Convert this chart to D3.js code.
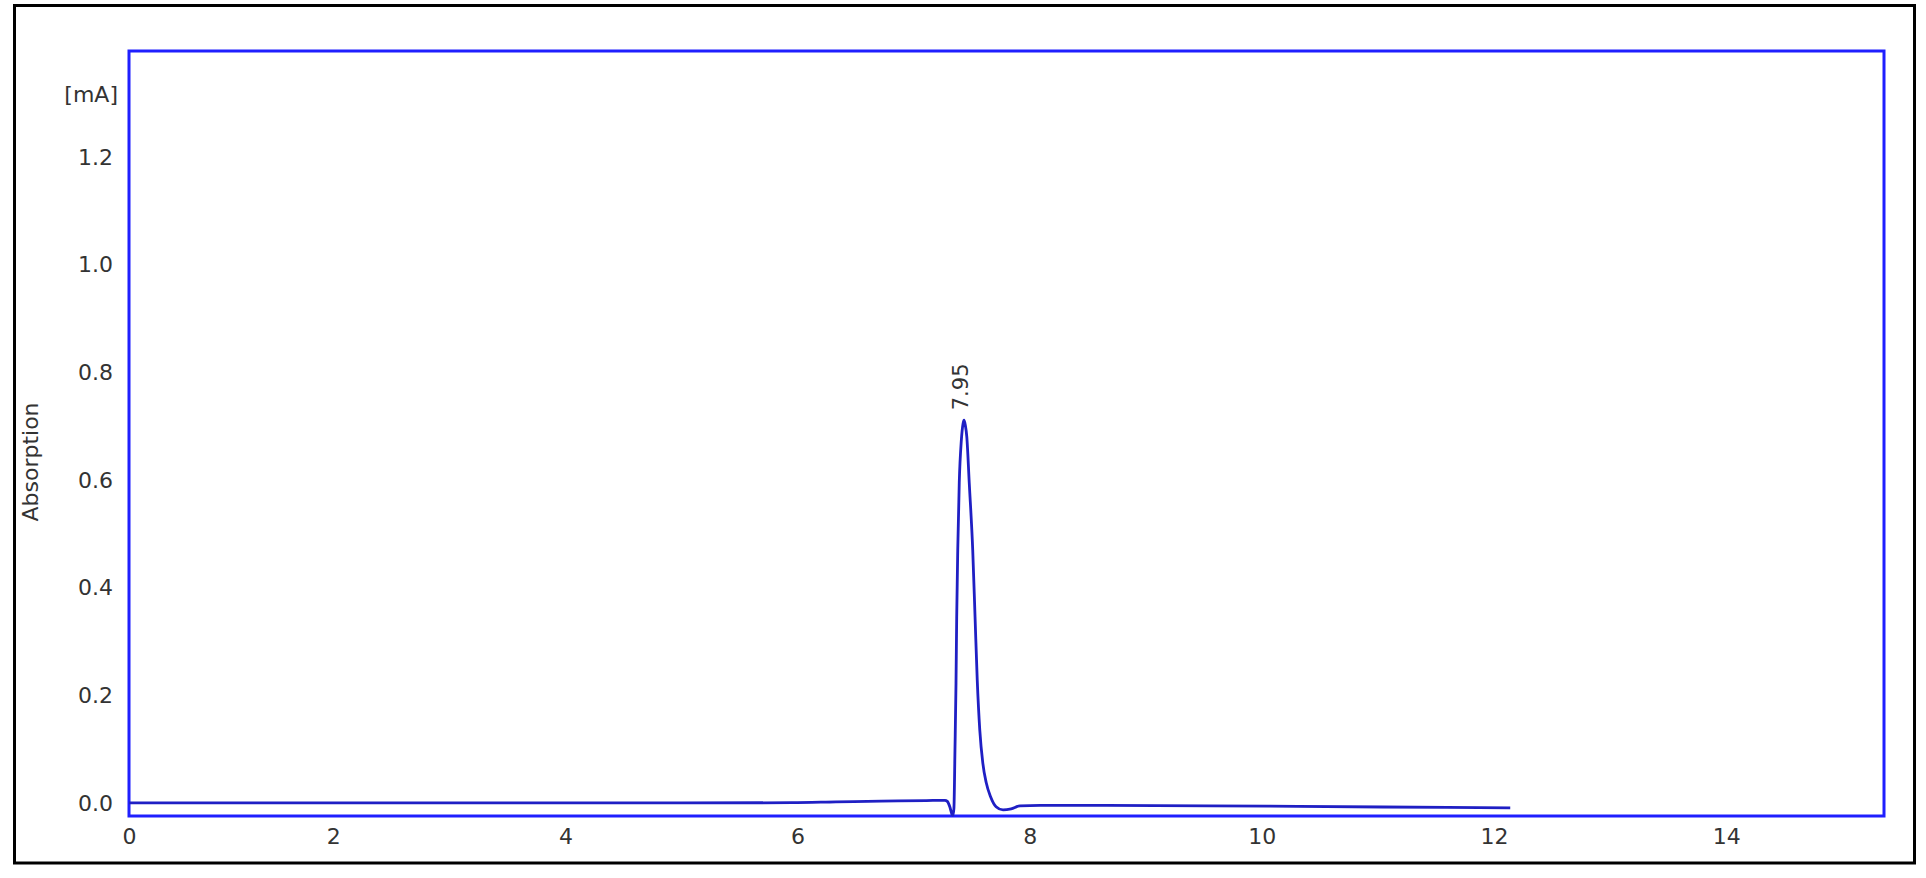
<!DOCTYPE html>
<html>
<head>
<meta charset="utf-8">
<script src="https://cdn.jsdelivr.net/npm/d3@7"></script>
<style>
  html, body { margin: 0; padding: 0; background: #ffffff; }
  svg { display: block; }
  text { font-family: "DejaVu Sans", Verdana, sans-serif; fill: #333333; }
</style>
</head>
<body>
<svg id="chart" width="1926" height="878"></svg>
<script>
// ---- data ----
const time = [0.24, 1, 2, 3, 4, 5, 5.95, 6.33, 6.72, 7.11, 7.27, 7.29, 7.313, 7.33, 7.338,
  7.347, 7.356, 7.365, 7.371, 7.38, 7.393, 7.411, 7.426, 7.434, 7.445, 7.458, 7.479, 7.509,
  7.529, 7.548, 7.57, 7.596, 7.625, 7.662, 7.71, 7.77, 7.84, 7.916, 8.09, 9.08, 10.06,
  11.04, 12.14];
const absorption = [0, 0, 0, 0, 0, 0, 0.0005, 0.002, 0.0035, 0.0045, 0.005, 0.003, -0.008,
  -0.021, -0.023, -0.010, 0.098, 0.223, 0.346, 0.470, 0.595, 0.674, 0.705, 0.711, 0.702,
  0.680, 0.595, 0.470, 0.346, 0.228, 0.135, 0.074, 0.038, 0.012, -0.007, -0.013, -0.011,
  -0.0055, -0.0045, -0.0048, -0.006, -0.0075, -0.009];
const xTicks = [2, 4, 6, 8, 10, 12, 14];
const yTicks = [0.0, 0.2, 0.4, 0.6, 0.8, 1.0, 1.2];
const peakTime = 7.434;
const peakValue = 0.711;
const peakLabel = "7.95";
const xDomain = [0.24, 15.36];
const yDomain = [-0.0242, 1.397];
const yUnit = "[mA]";
const yTitle = "Absorption";

// ---- layout ----
const svg = d3.select("#chart");
const plot = { left: 129, right: 1884, top: 51, bottom: 816 };

const x = d3.scaleLinear().domain(xDomain).range([plot.left, plot.right]);
const y = d3.scaleLinear().domain(yDomain).range([plot.bottom, plot.top]);

// outer black border
svg.append("rect")
  .attr("x", 14.5).attr("y", 5.5)
  .attr("width", 1900).attr("height", 857.5)
  .attr("fill", "none").attr("stroke", "#000").attr("stroke-width", 3);

// axes (labels only); the origin label sits at the frame's left edge
const fontSize = 22;
const xAxis = svg.append("g")
  .attr("transform", `translate(0,${plot.bottom})`)
  .call(d3.axisBottom(x)
    .tickValues([xDomain[0]].concat(xTicks))
    .tickSize(0).tickPadding(12)
    .tickFormat(d => d === xDomain[0] ? "0" : d3.format("d")(d)));
xAxis.select(".domain").remove();
xAxis.selectAll("text").attr("font-size", fontSize).style("fill", "#333");

const yAxis = svg.append("g")
  .attr("transform", `translate(${plot.left},0)`)
  .call(d3.axisLeft(y).tickValues(yTicks).tickSize(0).tickPadding(16).tickFormat(d3.format(".1f")));
yAxis.select(".domain").remove();
yAxis.selectAll("text").attr("font-size", fontSize).style("fill", "#333");

// unit label
svg.append("text")
  .attr("x", 118).attr("y", 94)
  .attr("dy", "0.35em")
  .attr("text-anchor", "end")
  .attr("font-size", fontSize)
  .text(yUnit);

// y title
svg.append("text")
  .attr("transform", "translate(38,462) rotate(-90)")
  .attr("text-anchor", "middle")
  .attr("font-size", fontSize)
  .text(yTitle);

// plot frame
svg.append("rect")
  .attr("x", x(xDomain[0])).attr("y", y(yDomain[1]))
  .attr("width", x(xDomain[1]) - x(xDomain[0]))
  .attr("height", y(yDomain[0]) - y(yDomain[1]))
  .attr("fill", "none").attr("stroke", "#1f1fff").attr("stroke-width", 3);

// trace
const pts = time.map((t, i) => [t, absorption[i]]);
const line = d3.line().x(d => x(d[0])).y(d => y(d[1])).curve(d3.curveMonotoneX);
svg.append("path")
  .datum(pts)
  .attr("d", line)
  .attr("fill", "none")
  .attr("stroke", "#1f1fc4")
  .attr("stroke-width", 2.8)
  .attr("stroke-linejoin", "round");

// peak label
svg.append("text")
  .attr("transform", `translate(${x(peakTime) + 4},${y(peakValue) - 10}) rotate(-90)`)
  .attr("text-anchor", "start")
  .attr("font-size", 21)
  .text(peakLabel);
</script>
</body>
</html>
